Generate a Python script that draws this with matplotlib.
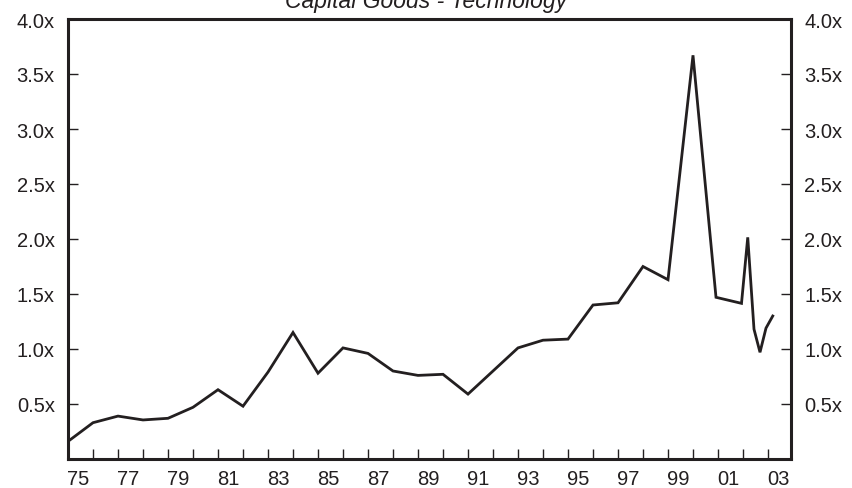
import numpy as np
import matplotlib
matplotlib.use("Agg")
import matplotlib.pyplot as plt
from matplotlib.ticker import FixedLocator, NullFormatter

plt.rcParams['font.family'] = ['Liberation Sans', 'DejaVu Sans']

# year-end values, quarterly at the end of the series
years = [1975, 1976, 1977, 1978, 1979, 1980, 1981, 1982, 1983, 1984,
         1985, 1986, 1987, 1988, 1989, 1990, 1991, 1992, 1993, 1994,
         1995, 1996, 1997, 1998, 1999, 2000, 2000.92, 2001.94, 2002.19,
         2002.44, 2002.68, 2002.92, 2003.19]
ratio = [0.16, 0.33, 0.39, 0.355, 0.37, 0.47, 0.63, 0.48, 0.79, 1.15,
         0.78, 1.01, 0.96, 0.80, 0.76, 0.77, 0.59, 0.80, 1.01, 1.08,
         1.09, 1.40, 1.42, 1.75, 1.63, 3.67, 1.47, 1.415, 2.015,
         1.18, 0.97, 1.19, 1.30]

ytick_vals = [0.5, 1.0, 1.5, 2.0, 2.5, 3.0, 3.5, 4.0]
ytick_labels = ["0.5x", "1.0x", "1.5x", "2.0x", "2.5x", "3.0x", "3.5x", "4.0x"]
xlabel_years = list(range(1975, 2004, 2))
xlabels = [f"{y % 100:02d}" for y in xlabel_years]
title = "Capital Goods - Technology"

ink = "#231f20"

fig = plt.figure(figsize=(8.53, 4.89), dpi=100)
ax = fig.add_axes([68 / 853, 1 - 460 / 489, (791 - 68) / 853, (460 - 20) / 489])

ax.plot(years, ratio, color=ink, lw=2.0, solid_joinstyle='miter')

ax.set_xlim(1975, 2003.92)
ax.set_ylim(0, 4)

for s in ax.spines.values():
    s.set_linewidth(2.2)
    s.set_color(ink)

ax.set_yticks(ytick_vals)
ax.set_yticklabels(ytick_labels)
ax.tick_params(axis='y', direction='in', length=7.5, width=1, color=ink,
               left=True, right=True, labelleft=True, labelright=True,
               labelsize=14.5, pad=9.5, labelcolor=ink)

# year boundaries as tick marks, labels roughly centred in the year
ax.xaxis.set_major_locator(FixedLocator(list(range(1976, 2004))))
ax.xaxis.set_major_formatter(NullFormatter())
ax.xaxis.set_minor_locator(FixedLocator([y + 0.42 for y in xlabel_years]))
ax.set_xticklabels(xlabels, minor=True)
ax.tick_params(axis='x', which='major', direction='in', length=7.5, width=1, color=ink)
ax.tick_params(axis='x', which='minor', length=0, labelsize=14.5, pad=7, labelcolor=ink)

fig.text(0.5, 1 - 8 / 489, title, ha='center', va='baseline',
         fontsize=16.5, style='italic', color=ink)

fig.savefig("out.png", dpi=100)
